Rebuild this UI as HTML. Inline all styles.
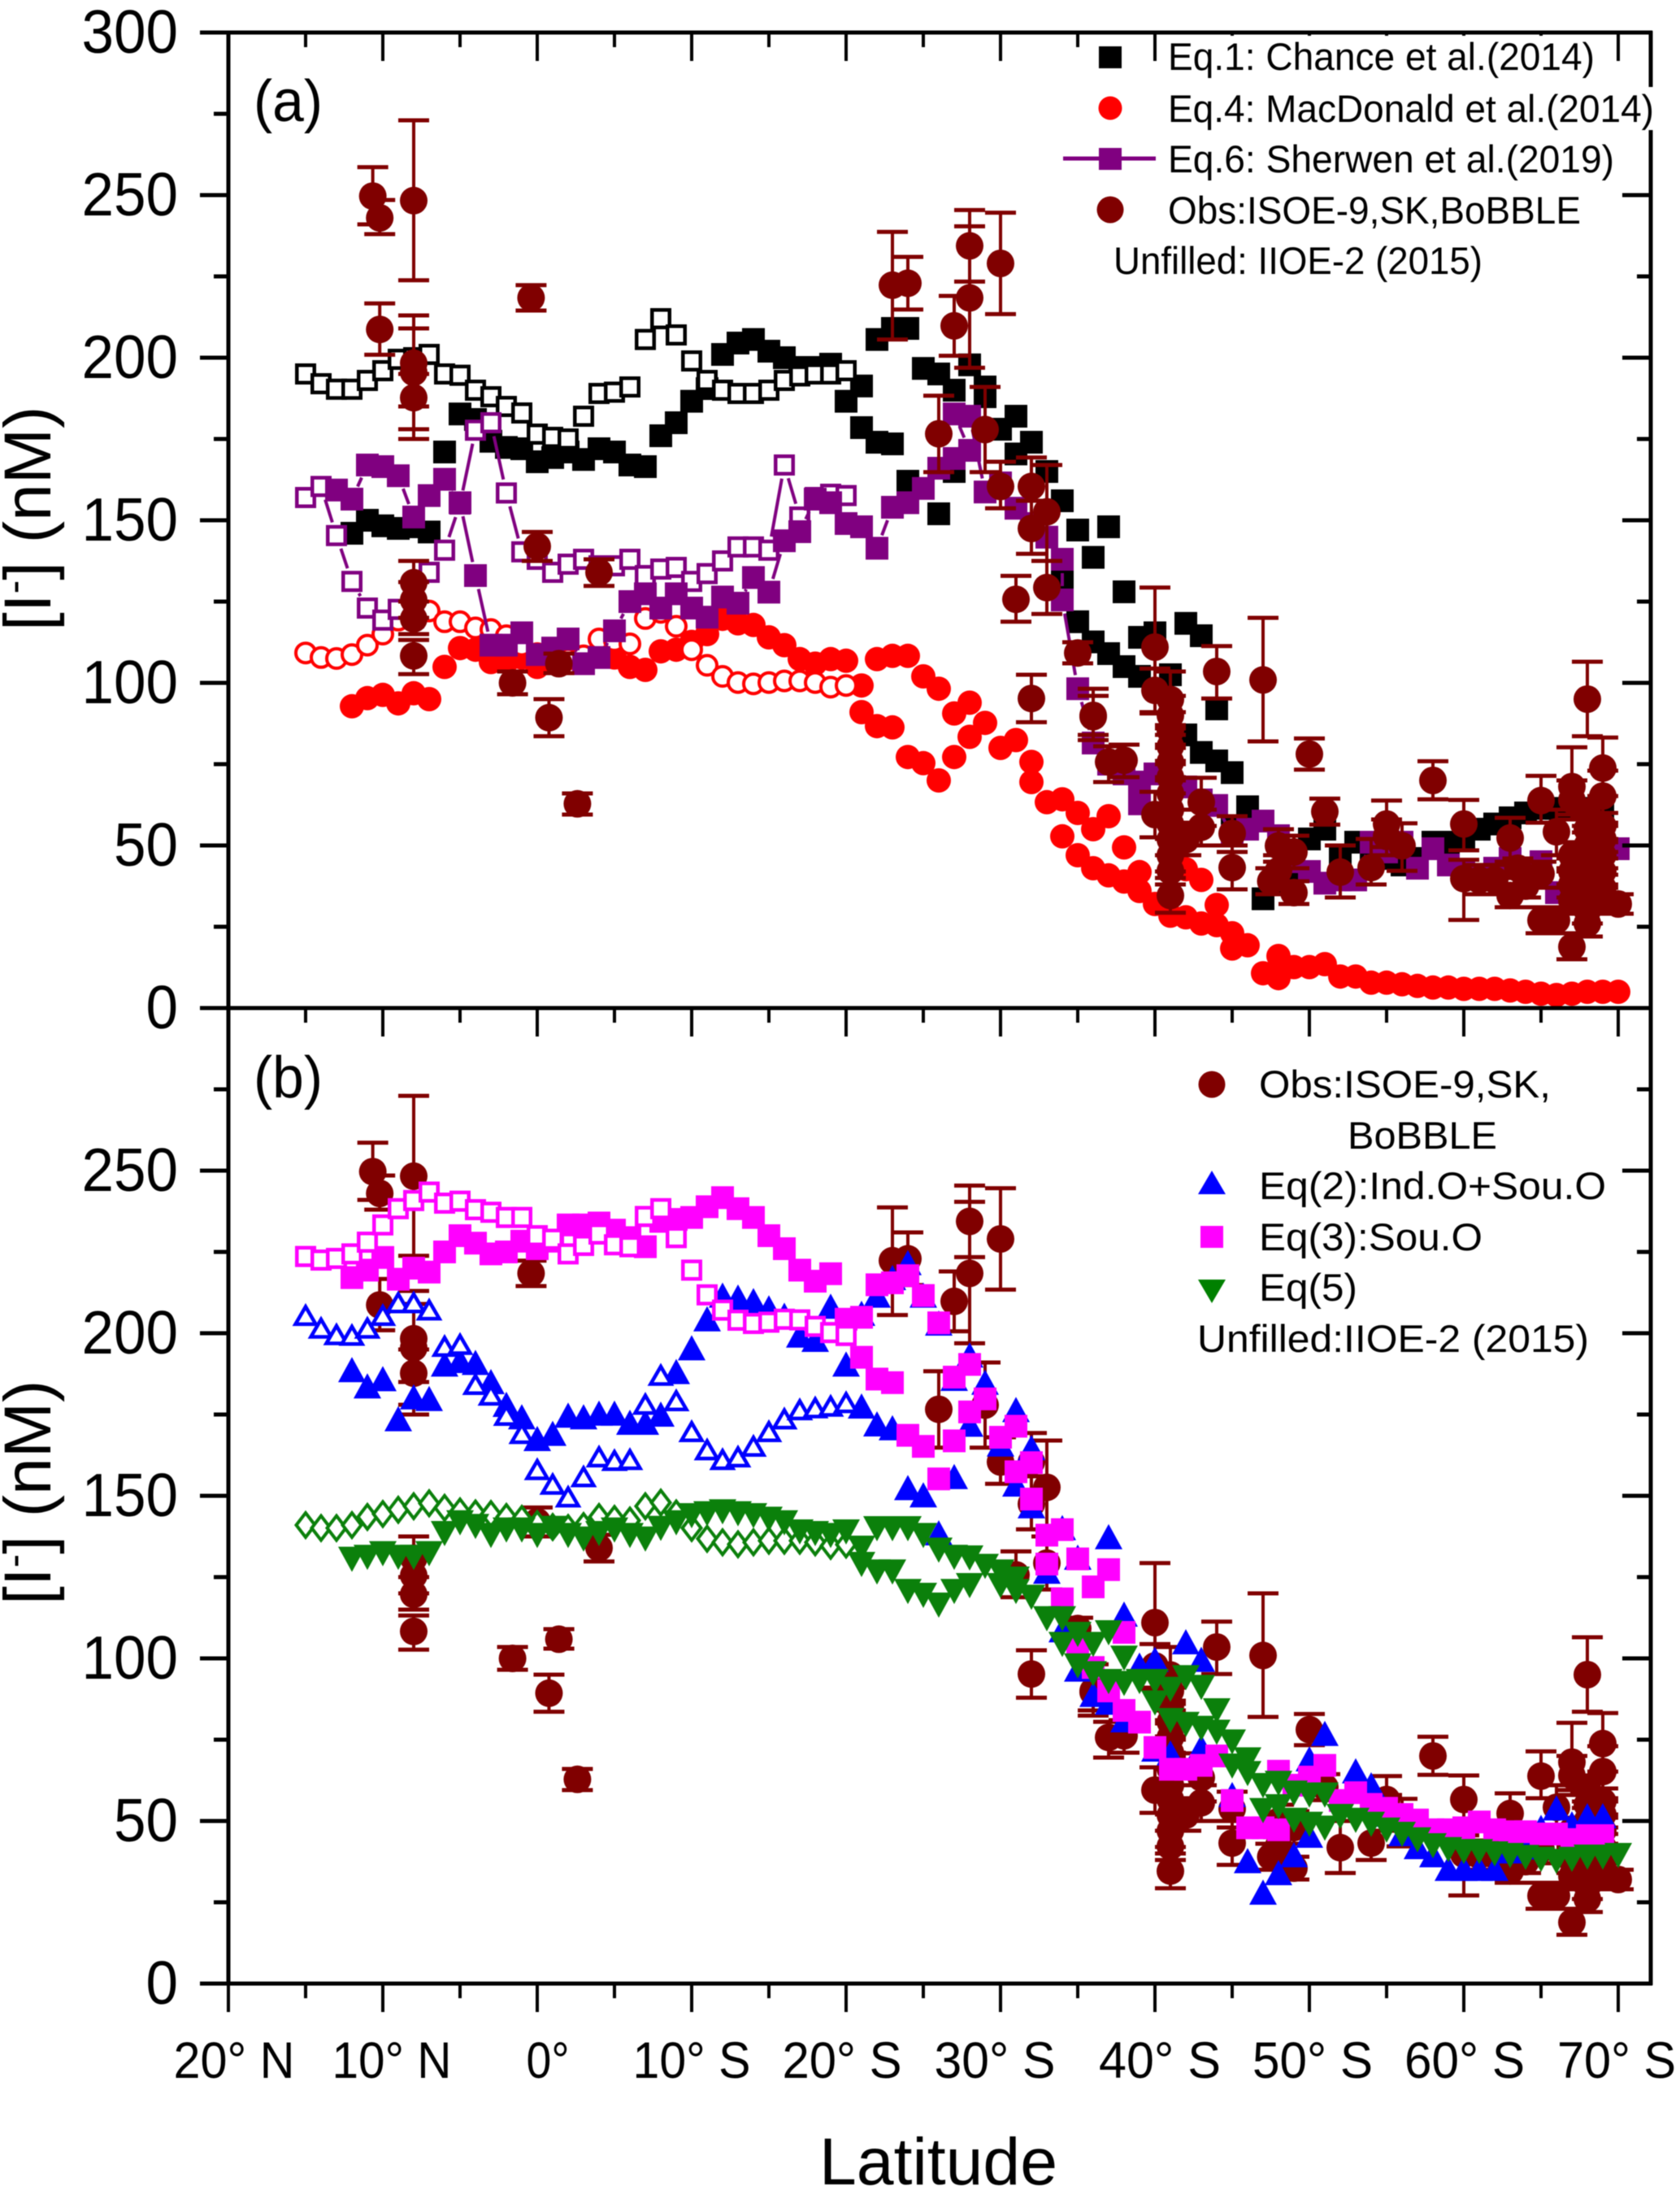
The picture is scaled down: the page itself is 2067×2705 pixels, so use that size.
<!DOCTYPE html>
<html lang="en">
<head>
<meta charset="utf-8">
<title>Iodide versus latitude</title>
<style>
html,body{margin:0;padding:0;background:#fff;}
svg{display:block;filter:blur(0.6px);}
text{font-family:"Liberation Sans",Arial,sans-serif;fill:#000;}
</style>
</head>
<body>
<svg id="chart" xmlns="http://www.w3.org/2000/svg" width="2067" height="2705" viewBox="0 0 2067 2705">
  <rect x="0" y="0" width="2067" height="2705" fill="#fff"/>
  <g id="plotA"></g>
  <g id="plotB"></g>
  <g id="axes"></g>

  <text x="312" y="149" font-size="72" textLength="85" lengthAdjust="spacingAndGlyphs">(a)</text>
  <text x="312" y="1350" font-size="72" textLength="85" lengthAdjust="spacingAndGlyphs">(b)</text>

  <text transform="translate(62,776) rotate(-90)" font-size="82">[I<tspan font-size="50" dy="-28">-</tspan><tspan dy="28">] (nM)</tspan></text>
  <text transform="translate(62,1974) rotate(-90)" font-size="82">[I<tspan font-size="50" dy="-28">-</tspan><tspan dy="28">] (nM)</tspan></text>

  <g font-size="63" text-anchor="middle">
    <text x="288" y="2556" text-anchor="middle" textLength="149" lengthAdjust="spacingAndGlyphs">20° N</text>
    <text x="482" y="2556" text-anchor="middle" textLength="147" lengthAdjust="spacingAndGlyphs">10° N</text>
    <text x="674" y="2556" text-anchor="middle" textLength="53" lengthAdjust="spacingAndGlyphs">0°</text>
    <text x="851" y="2556" text-anchor="middle" textLength="145" lengthAdjust="spacingAndGlyphs">10° S</text>
    <text x="1036" y="2556" text-anchor="middle" textLength="147" lengthAdjust="spacingAndGlyphs">20° S</text>
    <text x="1224" y="2556" text-anchor="middle" textLength="149" lengthAdjust="spacingAndGlyphs">30° S</text>
    <text x="1427" y="2556" text-anchor="middle" textLength="150" lengthAdjust="spacingAndGlyphs">40° S</text>
    <text x="1615" y="2556" text-anchor="middle" textLength="148" lengthAdjust="spacingAndGlyphs">50° S</text>
    <text x="1802" y="2556" text-anchor="middle" textLength="148" lengthAdjust="spacingAndGlyphs">60° S</text>
    <text x="1989" y="2556" text-anchor="middle" textLength="146" lengthAdjust="spacingAndGlyphs">70° S</text>
  </g>
  <text x="1008" y="2687" font-size="82" textLength="293" lengthAdjust="spacingAndGlyphs">Latitude</text>

  <g>
    <rect x="1426" y="44" width="559" height="58" fill="#fff"/>
    <rect x="1430" y="107" width="612" height="53" fill="#fff"/>
    <rect x="1352" y="57" width="28" height="27" fill="#000"/>
    <text x="1437" y="86" font-size="47" textLength="525" lengthAdjust="spacingAndGlyphs">Eq.1: Chance et al.(2014)</text>
    <circle cx="1366" cy="133" r="14.5" fill="#ff0000"/>
    <text x="1437" y="150" font-size="47" textLength="598" lengthAdjust="spacingAndGlyphs">Eq.4: MacDonald et al.(2014)</text>
    <line x1="1308" y1="195" x2="1422" y2="195" stroke="#800080" stroke-width="5"/>
    <rect x="1352" y="182" width="28" height="27" fill="#800080"/>
    <text x="1437" y="212" font-size="47" textLength="549" lengthAdjust="spacingAndGlyphs">Eq.6: Sherwen et al.(2019)</text>
    <circle cx="1366" cy="258" r="16.5" fill="#800000"/>
    <text x="1437" y="275" font-size="47" textLength="508" lengthAdjust="spacingAndGlyphs">Obs:ISOE-9,SK,BoBBLE</text>
    <text x="1370" y="337" font-size="47" textLength="454" lengthAdjust="spacingAndGlyphs">Unfilled: IIOE-2 (2015)</text>
  </g>

  <g>
    <circle cx="1491" cy="1334" r="16.5" fill="#800000"/>
    <text x="1549" y="1350" font-size="47" textLength="359" lengthAdjust="spacingAndGlyphs">Obs:ISOE-9,SK,</text>
    <text x="1658" y="1413" font-size="47" textLength="184" lengthAdjust="spacingAndGlyphs">BoBBLE</text>
    <polygon points="1491,1440 1474,1469 1508,1469" fill="#0000ff"/>
    <text x="1549" y="1475" font-size="47" textLength="427" lengthAdjust="spacingAndGlyphs">Eq(2):Ind.O+Sou.O</text>
    <rect x="1477" y="1508" width="28" height="27" fill="#ff00ff"/>
    <text x="1549" y="1538" font-size="47" textLength="275" lengthAdjust="spacingAndGlyphs">Eq(3):Sou.O</text>
    <polygon points="1491,1603 1474,1574 1508,1574" fill="#008000"/>
    <text x="1549" y="1600" font-size="47" textLength="121" lengthAdjust="spacingAndGlyphs">Eq(5)</text>
    <text x="1473" y="1663" font-size="47" textLength="482" lengthAdjust="spacingAndGlyphs">Unfilled:IIOE-2 (2015)</text>
  </g>
</svg>

<script>
// ---- Data: [latitude (N negative, S positive), iodide nM] ----
const chanceOpen = [[-15,195],[-14,192],[-13,190.3],[-12,190.3],[-11,193],[-10,196],[-9,199.5],[-8,200],[-7,201],[-6,195],[-5,194.6],[-4,190],[-3,188],[-2,185],[-1,183],[0,176.5],[1,175.5],[2,175],[3,182],[4,189],[5,189.4],[6,191],[7,205.6],[8,212],[9,207],[10,199],[11,193],[12,190],[13,189],[14,189],[15,190],[16,193],[17,194.4],[18,195],[19,195],[20,196]];
const chanceFilled = [[-12,146],[-11,150],[-10,148.3],[-9,147.5],[-8,148],[-7,146.4],[-6,171],[-5,182.7],[-4,181],[-3,174.3],[-2,172.4],[-1,172],[0,168],[1,169.3],[2,171],[3,168.7],[4,172],[5,171],[6,167],[7,166.5],[8,176],[9,180],[10,186.6],[11,190.5],[12,201],[13,204.5],[14,205.6],[15,202],[16,200],[17,197],[18,197],[19,198],[20,186.6],[21,191.3],[21,178.5],[22,174],[23,173.5],[22,205.6],[23,209],[24,209],[25,196.7],[26,195],[27,190],[28,197.8],[29,191],[29,188],[30,178],[31,182],[31,170.4],[32,174],[33,165],[34,156],[35,147],[37,148],[36,138.6],[24,162],[26,152],[27,165],[34,132],[35,118.8],[36,112.6],[37,109],[38,105],[39,102],[38,128],[39,114],[40,115.4],[41,102.5],[42,118.3],[43,114.5],[44,92],[42,84],[43,78.6],[44,76],[45,72.4],[46,61.9],[45,55],[47,33.6],[48,38],[49,42],[50,52],[51,55],[52,46],[53,51],[54,48],[55,46],[56,44],[57,46],[58,51],[59,51],[60,52],[61,55],[62,56.6],[63,58.5],[64,60],[65,61.4],[66,61.4],[67,61.4],[68,61.4],[69,61.4]];
const macdonaldFilled = [[-12,92.8],[-11,95.3],[-10,96.3],[-9,93.7],[-8,96.8],[-7,95],[-6,104.9],[-5,110.7],[-4,110.2],[-3,106.4],[-2,106.4],[-1,107.8],[0,104.9],[1,107.3],[2,108.3],[3,107.3],[4,109.2],[5,107.8],[6,104.9],[7,104],[8,109.7],[9,110.2],[10,112.6],[11,115],[12,119.7],[13,118.3],[14,117.8],[15,114],[16,111.6],[17,107.3],[18,105.9],[19,107.3],[20,106.8],[21,99.2],[21,91],[22,86.7],[23,86.3],[24,77.2],[25,75.3],[26,70],[27,77.2],[28,83.4],[29,87.7],[28,93.9],[27,90.6],[26,98.2],[25,102],[24,108.3],[23,108.3],[22,107.3],[30,80],[31,82.4],[32,75.7],[32,69.5],[33,63.3],[34,64.2],[35,60],[36,55],[37,59],[34,52.8],[35,47],[36,43],[37,40.8],[38,49.4],[38,38.9],[39,41.8],[39,36],[40,32],[41,28.4],[42,27.9],[42,42.7],[43,39.4],[43,26],[44,31.7],[44,25.5],[45,23],[45,18.3],[46,19.3],[47,10.7],[48,16],[48,9.2],[49,12.6],[50,12.6],[51,13.5],[52,9.7],[53,9.7],[54,7.8],[55,7.8],[56,7.3],[57,6.8],[58,6.3],[59,6.3],[60,5.9],[61,5.9],[62,5.9],[63,5.4],[64,5],[65,4.4],[66,4],[67,4.4],[68,5],[69,5],[70,5]];
const macdonaldOpen = [[-15,109.2],[-14,107.8],[-13,107.5],[-12,108.7],[-11,111.6],[-10,115],[-9,119.3],[-8,120.7],[-7,122.1],[-6,118.8],[-5,118.8],[-4,116.9],[-3,116.4],[-2,114.5],[-1,111.6],[0,109],[1,107.3],[2,107.3],[3,108.3],[4,113.5],[5,113],[6,112],[7,119.8],[8,121.7],[9,117.4],[10,110.2],[11,105.4],[12,102],[13,100.1],[14,99.7],[15,100.1],[16,100.6],[17,100.6],[18,100.1],[19,98.7],[20,99.2]];
const sherwenOpen = [[-15,157],[-14,160.4],[-13,145.3],[-12,131.2],[-11,123],[-10,119.3],[-9,122.6],[-8,120],[-7,134],[-6,140.8],[-5,155],[-4,177.7],[-3,180],[-2,158.4],[-1,140.3],[0,138],[1,134],[2,136.5],[3,138],[4,136],[5,136],[6,138],[7,133],[8,135],[9,135.5],[10,131.2],[11,133.6],[12,137.5],[13,141.8],[14,141.8],[15,140.8],[16,167],[17,151],[18,157],[19,158],[20,157.6]];
const sherwenFilled = [[-13,159.3],[-12,156.5],[-11,167],[-10,166.5],[-9,163.7],[-8,151],[-7,157.6],[-6,162.6],[-5,155.4],[-4,133],[-3,111.6],[-2,111.6],[-1,115.4],[0,108.7],[1,110.7],[2,113.5],[3,105.9],[4,107.8],[5,116],[6,125],[7,127.4],[8,123],[9,127.4],[10,123],[11,120.2],[12,126.4],[13,124.5],[14,132.4],[15,127.9],[16,143.7],[17,146.5],[18,156.5],[19,155.4],[20,149],[21,148],[22,141.4],[23,154],[24,155.4],[25,159.8],[26,166],[27,169],[28,171.5],[27,182.7],[28,182],[29,158.7],[30,161.5],[31,153.7],[32,149],[33,144.8],[34,138],[34,125.5],[35,98.2],[36,81.5],[37,75],[38,72],[39,69.5],[39,62.8],[40,72],[41,66],[42,68],[43,64],[44,62.3],[45,53],[46,55],[47,57.5],[48,53],[49,45],[50,42],[51,38.4],[52,39.4],[53,39.4],[54,51],[55,48],[56,51],[57,43],[58,49],[59,44],[60,42],[61,40.8],[62,43],[63,46],[64,42],[65,45],[66,35.5],[67,42],[68,42],[69,49],[70,49]];

// ---- Observations: [latitude, value, lower bar, upper bar] ----
const observations = [[-10.65,249.7,241,258.6],[-10.2,243,238,248.5],[-8,248.3,223.8,273],[-10.2,208.7,200.9,216.7],[-8,198.3,185,213],[-8,195.5,178,209],[-8,187.7,175,195],[-0.4,218.4,214.5,222.3],[0,142,137.5,146.4],[4,134,129.8,138],[-8,130.8,125,137.5],[-8,125.5,120,131],[-8,119.7,115,125],[-8,108.3,102.7,113.2],[-1.6,100,96.5,103.5],[0.76,89.3,83.6,95],[1.4,105.9,103,109],[2.6,62.8,59.5,66],[23,222.3,205.6,238.7],[24,222.9,214.8,231],[27,209.8,200.6,219],[28,234.4,223.4,245.4],[28,218.4,196.9,240.4],[30,229,213.4,244.6],[26,176.6,164.8,188.3],[29,177.9,164.8,191],[30,160.4,153.7,168],[32,160.4,156,169.3],[33,152.6,137.5,167],[32,147.5,139.7,156],[31,125.7,118.8,132.9],[33,129.3,121.2,137.5],[32,95.2,87.9,102.5],[35,109.2,106,112.5],[36,89.6,82.4,98.2],[36,90,84,96],[37,75.7,69.5,80.5],[38,76.2,71,81],[40,111,91,129.3],[40,97.7,90.6,104.4],[41,94.9,87,103.5],[41,90,84,96],[41,85.3,80,91],[41,80.5,75,86],[41,75.7,70,81],[41,71,66,76],[41,66,61,71],[41,61,56,66],[41,56.6,52,61],[41,51.8,47,56],[41,47,42,52],[41,42.2,38,47],[41,34.6,29.3,40],[40,59.5,52.5,66.5],[43,63.3,56,70.8],[43,55.6,50,61],[42,51.8,47,57],[44,103.5,95.2,111.3],[47,100.9,82,120],[50,78.1,73.3,82.9],[51,60.4,56.4,64.4],[45,53.7,48,59],[45,43.2,36.5,50],[48,49.9,45,55],[49,48,43,53],[48,42.2,37,47],[49,35.5,32,39],[47.5,39,35,43],[52,41.8,34,50],[54,43.2,38,52],[55,56.6,49.5,63.8],[55,52.8,47,58],[56,49.9,42.2,56.8],[58,70,64.2,75.9],[60,56.6,48.5,64],[60,39.8,27.1,45.6],[61,39.4,35,44],[62,39.4,35,44],[63,52.3,45,58.5],[63,34.6,31,38],[64,37.5,34,41],[63.5,43,40,46],[65,41.3,37,45],[65,63.8,57,71.4],[66,54.2,47,61],[65,27,23,31],[66,27,23,31],[67,68.1,59.5,80.2],[67,64,58,70],[67,18.8,15,23],[68,95,83.6,106.5],[69,73.8,65.2,83.2],[69,65.2,57,73],[68,60,56,64],[68,55,51,59],[68,50,46,54],[68,45,41,49],[68,40,36,44],[68,35,31,39],[68,30,26,34],[67,47,43,51],[67,42,38,46],[67,38,34,42],[67,33,29,37],[69,56,52,60],[69,52,48,56],[69,47,43,51],[69,42,38,46],[69,37,33,41],[69,33,29,37],[68,26,22,30],[70,32,29,35]];

// ---- Panel (b) ----
const eq3Open = [[-15,223.6],[-14,222.5],[-13,223],[-12,224.4],[-11,228],[-10,233.3],[-9,238.3],[-8,240.8],[-7,243.4],[-6,240],[-5,240.6],[-4,238],[-3,237.2],[-2,235.6],[-1,235.6],[0,230],[1,228.9],[2,224.4],[3,227],[4,230.5],[5,227.2],[6,226.6],[7,235.9],[8,238.3],[9,229.4],[10,219.4],[11,211.8],[12,207.1],[13,204],[14,203],[15,203.4],[16,204.3],[17,204.1],[18,202.1],[19,200.2],[20,199.3]];
const eq3Filled = [[-12,217.1],[-11,219.4],[-10,223.3],[-9,216.6],[-8,220],[-7,218.8],[-6,225],[-5,230],[-4,227.7],[-3,224.4],[-2,225],[-1,228.3],[0,226],[1,228.3],[2,233.3],[3,233.3],[4,233.9],[5,231.7],[6,229.4],[7,226.6],[8,234.4],[9,235],[10,235.6],[11,238.9],[12,241.7],[13,238.3],[14,235.6],[15,230],[16,226],[17,219.4],[18,216],[19,218.3],[20,204.3],[21,204.9],[22,214.9],[23,215.5],[24,217.7],[25,211.6],[26,203.2],[27,186.5],[28,190.4],[21,192.6],[22,185.9],[23,184.8],[24,168.6],[25,165.2],[26,155.2],[27,166.9],[28,175.8],[29,179.8],[30,168],[31,171.4],[31,157.4],[32,160.2],[32,149],[33,137.9],[34,139.6],[33,129],[35,130.6],[37,127.3],[36,122],[34,118.3],[38,108],[35,103.9],[36,97.2],[37,90],[38,84],[39,80.4],[40,72.6],[41,65.9],[42,65.9],[43,67.1],[44,70],[45,56.3],[46,47.9],[47,47.9],[48,47.3],[48,65.3],[49,61],[50,63.5],[51,67.1],[52,56.3],[53,58.7],[54,55.1],[55,53.9],[56,52],[57,50.3],[58,47.3],[59,47.3],[60,47.9],[61,49.7],[62,47.3],[63,46.7],[64,46.7],[65,46],[66,46],[67,44.3],[68,45.5],[69,45.5]];
const eq2Open = [[-15,205.4],[-14,201.5],[-13,199.5],[-12,199.3],[-11,201.5],[-10,205.4],[-9,209.3],[-8,209.3],[-7,207.1],[-6,195.9],[-5,196.5],[-4,184.2],[-3,180.9],[-2,174.7],[-1,169.1],[0,158],[1,153.5],[2,149.6],[3,155.8],[4,161.9],[5,160.8],[6,161.1],[7,178.1],[8,187],[9,179.2],[10,169.7],[11,164.1],[12,161.1],[13,161.9],[14,165.2],[15,169.7],[16,173.6],[17,176.4],[18,177],[19,177.5],[20,178.6]];
const eq2Filled = [[-12,188.7],[-11,183.7],[-10,185.9],[-9,173.6],[-8,180.3],[-7,179.8],[-6,190.4],[-5,191.5],[-4,190.9],[-3,185],[-2,178],[-1,174.2],[0,167.5],[1,169.1],[2,174.7],[3,174.2],[4,175.3],[5,175.3],[6,172.5],[7,172.5],[8,175],[9,188.1],[10,195.4],[11,204.3],[12,211.6],[13,211],[14,209.9],[15,207.7],[16,205.4],[17,199.3],[18,198],[19,208.2],[20,190.4],[21,206],[22,211.6],[23,217],[24,221.6],[25,211.6],[26,203],[27,186],[28,193.2],[29,184.8],[31,176.4],[32,164.7],[21,177.5],[22,172],[23,170.8],[24,152.4],[25,150.2],[26,138.5],[27,155.8],[28,171.9],[30,165.8],[31,153.5],[32,146.8],[33,126.7],[34,140.1],[35,131],[37,137.3],[34,108.7],[35,96.6],[36,88.8],[37,86.4],[38,81],[38,113.5],[39,97.8],[40,99.6],[40,72],[41,70.8],[42,105],[43,99.6],[43,72.6],[45,58],[46,37.7],[47,28],[48,34],[49,39.5],[50,45.5],[51,76.8],[50,69],[53,65.3],[54,61],[55,52],[56,46],[57,42],[58,39.5],[59,35.3],[60,35.3],[61,35.3],[62,35.3],[63,40.7],[64,41.9],[65,47.9],[66,53.9],[67,49],[68,51.5],[69,51.5]];
const eq5Open = [[-15,141],[-14,140.1],[-13,140.1],[-12,141],[-11,143.5],[-10,144.4],[-9,145.7],[-8,146.8],[-7,147.7],[-6,146.3],[-5,145.2],[-4,144.6],[-3,144.4],[-2,143.5],[-1,142.9],[0,141.3],[1,140.4],[2,140.1],[3,140.7],[4,143.5],[5,142.9],[6,142.4],[7,146.8],[8,147.9],[9,144.6],[10,140.1],[11,136.8],[12,135.7],[13,135.1],[14,135.7],[15,136.2],[16,136.2],[17,136.2],[18,135.7],[19,134.6],[20,135]];
const eq5Filled = [[-12,130.6],[-11,131.2],[-10,132.3],[-9,131.2],[-8,131.2],[-7,132.3],[-6,138.5],[-5,141.8],[-4,140.7],[-3,137.9],[-2,139.6],[-1,139.6],[0,137.9],[1,140.1],[2,137.9],[3,136.8],[4,138.5],[5,139.6],[6,137.9],[7,136.8],[8,140.1],[9,141.8],[10,144],[11,144.6],[12,145.2],[13,144.6],[14,144],[15,142.9],[16,141.8],[17,139],[18,138.5],[19,137.9],[20,139],[21,134],[22,140],[23,140],[24,140],[25,137.9],[26,133.4],[27,131.2],[28,131],[29,128.4],[30,126.7],[31,124.5],[21,129],[22,126.7],[23,126.7],[24,120.7],[25,119.5],[26,116.5],[27,120.7],[28,122.5],[30,122.5],[31,120.7],[32,118.9],[33,112.3],[34,112.3],[34,104.4],[35,107.5],[36,104.4],[37,108],[38,100.2],[35,97.8],[36,95.4],[37,93],[38,92.4],[39,93],[40,93],[41,90.6],[42,94.2],[43,91.2],[40,86.4],[41,81],[42,79.8],[43,78.6],[44,84],[44,77.4],[45,74.4],[46,68.9],[45,67],[46,64.7],[47,61],[48,61.7],[47,53.3],[48,54.5],[49,58.7],[50,58.1],[51,58.1],[49,50.3],[50,49.1],[51,47.9],[52,51.5],[53,50.3],[54,49.1],[55,47.3],[56,46],[57,44.3],[58,42.5],[59,41.3],[60,40.7],[61,40.7],[62,40],[63,39.5],[64,38.9],[65,38.3],[66,37.7],[67,38.3],[68,39],[69,39],[70,39.5]];

// ---- Axis ticks ----
const yMajorTicksA = [0,50,100,150,200,250,300];
const yMajorTicksB = [0,50,100,150,200,250];
const yMinorTicks = [25,75,125,175,225,275];
const xMajorTicks = [-20,-10,0,10,20,30,40,50,60,70];
const xMinorTicks = [-15,-5,5,15,25,35,45,55,65];

// ---- Scales ----
const xScale = function (lat) { return 281 + (lat + 20) * 19; };
const yScaleA = function (v) { return 1240 - v * 4; };
const yScaleB = function (v) { return 2440 - v * 4; };

const NS = 'http://www.w3.org/2000/svg';
const axesLayer = document.getElementById('axes');
const layerA = document.getElementById('plotA');
const layerB = document.getElementById('plotB');

function make(parent, tag, props) {
  const el = document.createElementNS(NS, tag);
  for (const k in props) { el.setAttribute(k, props[k]); }
  parent.appendChild(el);
  return el;
}

function drawAxisLine(x1, y1, x2, y2, w, name) {
  const el = make(axesLayer, 'line', {x1: x1, y1: y1, x2: x2, y2: y2, stroke: '#000', 'stroke-width': w});
  
  
}

function drawYLabel(value, yPos) {
  const text = String(value);
  const el = make(axesLayer, 'text', {x: 219, y: yPos + 25, 'font-size': 75, 'text-anchor': 'end', textLength: text.length * 39.5, lengthAdjust: 'spacingAndGlyphs'});
  el.textContent = text;
  
  
}

function drawAxes() {
  drawAxisLine(246, 40, 2033, 40, 5, 'top-axis');
  drawAxisLine(246, 1240, 2033, 1240, 5, 'middle-axis');
  drawAxisLine(246, 2440, 2033, 2440, 5, 'x-axis');
  drawAxisLine(281, 38, 281, 2442, 5, 'left-axis');
  drawAxisLine(2031, 38, 2031, 2442, 5, 'right-axis');
  yMajorTicksA.forEach(function (v) {
    drawAxisLine(246, yScaleA(v), 281, yScaleA(v), 5, 'y-major-tick');
    if (v > 0 && v < 300) { drawAxisLine(1996, yScaleA(v), 2031, yScaleA(v), 5, 'y-right-major-tick'); }
    drawYLabel(v, yScaleA(v));
  });
  yMajorTicksB.forEach(function (v) {
    if (v > 0) { drawAxisLine(246, yScaleB(v), 281, yScaleB(v), 5, 'y-major-tick'); }
    if (v > 0) { drawAxisLine(1996, yScaleB(v), 2031, yScaleB(v), 5, 'y-right-major-tick'); }
    drawYLabel(v, yScaleB(v));
  });
  yMinorTicks.forEach(function (v) {
    drawAxisLine(263, yScaleA(v), 281, yScaleA(v), 5, 'y-minor-tick');
    drawAxisLine(2014, yScaleA(v), 2031, yScaleA(v), 5, 'y-right-minor-tick');
    drawAxisLine(263, yScaleB(v), 281, yScaleB(v), 5, 'y-minor-tick');
    drawAxisLine(2014, yScaleB(v), 2031, yScaleB(v), 5, 'y-right-minor-tick');
  });
  [40, 1240, 2440].forEach(function (y) {
    xMajorTicks.forEach(function (lat) { drawAxisLine(xScale(lat), y, xScale(lat), y + 35, 4, 'x-major-tick'); });
    xMinorTicks.forEach(function (lat) { drawAxisLine(xScale(lat), y, xScale(lat), y + 18, 4, 'x-minor-tick'); });
  });
}

function drawSquare(layer, cx, cy, color, open, name) {
  const s = open ? 21.5 : 28;
  const el = make(layer, 'rect', {x: cx - s / 2, y: cy - s / 2, width: s, height: s, fill: open ? '#fff' : color});
  if (open) { el.setAttribute('stroke', color); el.setAttribute('stroke-width', 4.5); }
  
  
}

function drawCircle(layer, cx, cy, color, open, name) {
  const el = make(layer, 'circle', {cx: cx, cy: cy, r: open ? 12 : 15, fill: open ? '#fff' : color});
  if (open) { el.setAttribute('stroke', color); el.setAttribute('stroke-width', 4); }
  
  
}

function drawTriangle(layer, cx, cy, color, open, down, name) {
  const half = open ? 12.5 : 17;
  const apex = open ? 11 : 16;
  const base = open ? 10.5 : 15;
  const dir = down ? -1 : 1;
  const pts = [cx, cy - dir * apex, cx - half, cy + dir * base, cx + half, cy + dir * base].join(' ');
  const el = make(layer, 'polygon', {points: pts, fill: open ? '#fff' : color});
  if (open) { el.setAttribute('stroke', color); el.setAttribute('stroke-width', 4.5); }
  
  
}

function drawDiamond(layer, cx, cy, color, name) {
  const pts = [cx, cy - 15, cx + 11.5, cy, cx, cy + 15, cx - 11.5, cy].join(' ');
  const el = make(layer, 'polygon', {points: pts, fill: '#fff', stroke: color, 'stroke-width': 4});
  
  
}

function drawGappedLine(layer, series, yScale, color, name) {
  for (let i = 1; i < series.length; i++) {
    const a = series[i - 1];
    const b = series[i];
    const x1 = xScale(a[0]), y1 = yScale(a[1]), x2 = xScale(b[0]), y2 = yScale(b[1]);
    const d = Math.hypot(x2 - x1, y2 - y1);
    if (d <= 34 || Math.abs(b[0] - a[0]) > 1) { continue; }
    const ux = (x2 - x1) / d, uy = (y2 - y1) / d;
    const el = make(layer, 'line', {x1: x1 + ux * 17, y1: y1 + uy * 17, x2: x2 - ux * 17, y2: y2 - uy * 17, stroke: color, 'stroke-width': 4});
    
    
  }
}

function drawObservations(layer, yScale) {
  observations.forEach(function (o) {
    const x = xScale(o[0]);
    const stem = make(layer, 'line', {x1: x, y1: yScale(o[2]), x2: x, y2: yScale(o[3]), stroke: '#800000', 'stroke-width': 4});
    
    
    [o[2], o[3]].forEach(function (v) {
      const cap = make(layer, 'line', {x1: x - 19, y1: yScale(v), x2: x + 19, y2: yScale(v), stroke: '#800000', 'stroke-width': 5});
      
      
    });
  });
  observations.forEach(function (o) {
    const dot = make(layer, 'circle', {cx: xScale(o[0]), cy: yScale(o[1]), r: 17, fill: '#800000'});
    
    
  });
}

// Panel (a), back to front
chanceFilled.forEach(function (p) { drawSquare(layerA, xScale(p[0]), yScaleA(p[1]), '#000000', false, 'eq1-point'); });
chanceOpen.forEach(function (p) { drawSquare(layerA, xScale(p[0]), yScaleA(p[1]), '#000000', true, 'eq1-iioe-point'); });
macdonaldFilled.forEach(function (p) { drawCircle(layerA, xScale(p[0]), yScaleA(p[1]), '#ff0000', false, 'eq4-point'); });
macdonaldOpen.forEach(function (p) { drawCircle(layerA, xScale(p[0]), yScaleA(p[1]), '#ff0000', true, 'eq4-iioe-point'); });
drawGappedLine(layerA, sherwenOpen, yScaleA, '#800080', 'eq6-iioe-line');
sherwenOpen.forEach(function (p) { drawSquare(layerA, xScale(p[0]), yScaleA(p[1]), '#800080', true, 'eq6-iioe-point'); });
drawGappedLine(layerA, sherwenFilled, yScaleA, '#800080', 'eq6-line');
sherwenFilled.forEach(function (p) { drawSquare(layerA, xScale(p[0]), yScaleA(p[1]), '#800080', false, 'eq6-point'); });
drawObservations(layerA, yScaleA);

// Panel (b), back to front
drawObservations(layerB, yScaleB);
eq2Filled.forEach(function (p) { drawTriangle(layerB, xScale(p[0]), yScaleB(p[1]), '#0000ff', false, false, 'eq2-point'); });
eq2Open.forEach(function (p) { drawTriangle(layerB, xScale(p[0]), yScaleB(p[1]), '#0000ff', true, false, 'eq2-iioe-point'); });
eq3Filled.forEach(function (p) { drawSquare(layerB, xScale(p[0]), yScaleB(p[1]), '#ff00ff', false, 'eq3-point'); });
eq3Open.forEach(function (p) { drawSquare(layerB, xScale(p[0]), yScaleB(p[1]), '#ff00ff', true, 'eq3-iioe-point'); });
eq5Open.forEach(function (p) { drawDiamond(layerB, xScale(p[0]), yScaleB(p[1]), '#0b800b', 'eq5-iioe-point'); });
eq5Filled.forEach(function (p) { drawTriangle(layerB, xScale(p[0]), yScaleB(p[1]), '#0b800b', false, true, 'eq5-point'); });

drawAxes();
</script>
</body>
</html>
